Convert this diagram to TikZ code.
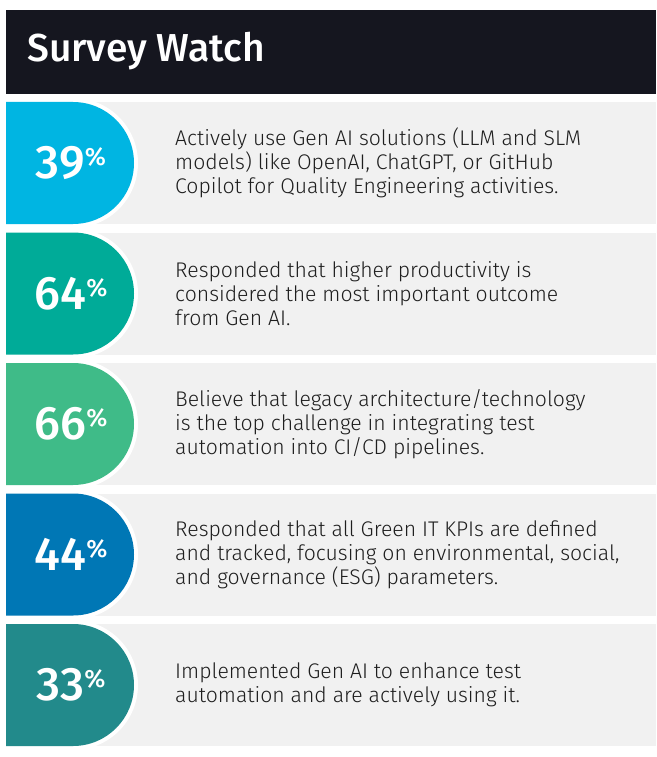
\documentclass[tikz,border=0pt]{standalone}
\usepackage{fontspec}
\setmainfont{Fira Sans}[UprightFont=* Light, BoldFont=* Medium]
\usetikzlibrary{positioning}

\definecolor{headbg}{HTML}{15161F}
\definecolor{rowbg}{HTML}{F1F1F1}
\definecolor{bodytxt}{HTML}{1E1E1E}
\definecolor{colA}{HTML}{00B5E2}
\definecolor{colB}{HTML}{00AB98}
\definecolor{colC}{HTML}{3FBB88}
\definecolor{colD}{HTML}{0077B5}
\definecolor{colE}{HTML}{228A8B}

\tikzset{
  pctnum/.style={text=white, inner sep=0pt},
  desctext/.style={anchor=west, align=left, text=bodytxt, inner sep=0pt,
    font=\fontsize{21.2}{24}\selectfont},
}

\begin{document}
\begin{tikzpicture}[x=1pt, y=-1pt]
\useasboundingbox (0,0) rectangle (656,757);

% Header
\fill[headbg] (6,10) rectangle (656,94);
\node[anchor=west, text=white, inner sep=0pt, font=\fontsize{39}{42}\bfseries\selectfont] (title) at (27,51) {Survey Watch};

% Rows
\foreach \i/\pct/\col/\txt in {
  0/39/colA/{Actively use Gen AI solutions (LLM and SLM\\models) like OpenAI, ChatGPT, or GitHub\\Copilot for Quality Engineering activities.},
  1/64/colB/{Responded that higher productivity is\\considered the most important outcome\\from Gen AI.},
  2/66/colC/{Believe that legacy architecture/technology\\is the top challenge in integrating test\\automation into CI/CD pipelines.},
  3/44/colD/{Responded that all Green IT KPIs are defined\\and tracked, focusing on environmental, social,\\and governance (ESG) parameters.},
  4/33/colE/{Implemented Gen AI to enhance test\\automation and are actively using it.}} {
  \pgfmathsetmacro{\top}{102+130.5*\i}
  \pgfmathsetmacro{\mid}{\top+61}
  % grey band
  \fill[rowbg] (6,\top) rectangle (656,\top+122);
  % white ring, then coloured tab
  \fill[white] (6,\top-4) -- (73,\top-4) arc[start angle=-90, end angle=90, radius=65] -- (6,\top+126) -- cycle;
  \fill[\col] (6,\top) -- (73,\top) arc[start angle=-90, end angle=90, radius=61] -- (6,\top+122) -- cycle;
  % figures
  \node[pctnum] (pct\i) at (71,\mid) {\fontsize{47}{47}\bfseries\selectfont\pct\raisebox{13pt}{\fontsize{25}{25}\selectfont\%}};
  \node[desctext] (desc\i) at (175,\mid) {\txt};
}
\end{tikzpicture}
\end{document}
